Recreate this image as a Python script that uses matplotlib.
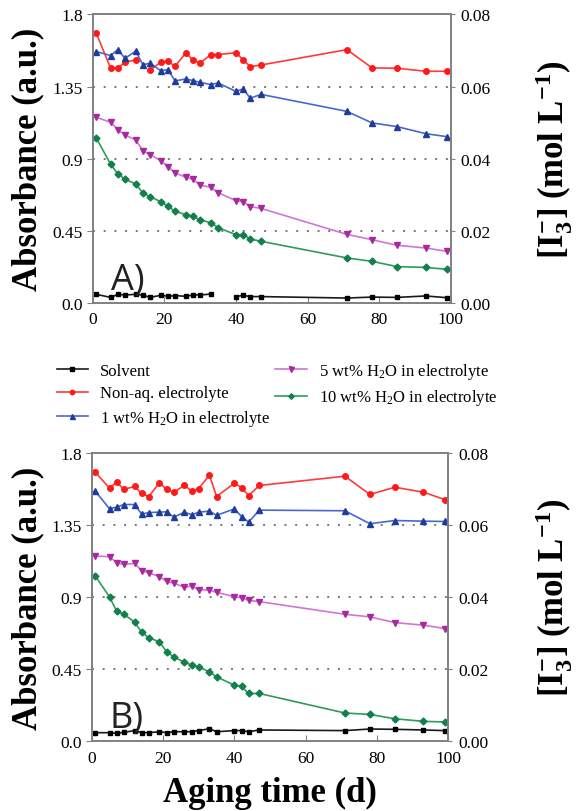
import numpy as np
import matplotlib
matplotlib.use('Agg')
import matplotlib.pyplot as plt

plt.rcParams['font.family'] = ['Liberation Serif', 'DejaVu Serif']
plt.rcParams['mathtext.fontset'] = 'custom'
plt.rcParams['mathtext.rm'] = 'Liberation Serif'
plt.rcParams['mathtext.it'] = 'Liberation Serif:italic'
plt.rcParams['mathtext.bf'] = 'Liberation Serif:bold'

# aging days (sampling points)
days = [1, 5, 7, 9, 12, 14, 16, 19, 21, 23, 26, 28, 30, 33, 35, 40, 42, 44, 47, 71, 78, 85, 93, 99]

# panel A
a_solvent = [0.054, 0.035, 0.054, 0.050, 0.054, 0.050, 0.035, 0.048, 0.042, 0.046, 0.042, 0.050,
             0.050, 0.056, np.nan, 0.040, 0.048, 0.040, 0.040, 0.031, 0.037, 0.035, 0.044, 0.033]
a_nonaq = [1.682, 1.464, 1.464, 1.501, 1.516, np.nan, 1.453, 1.501, 1.507, 1.476, 1.559, 1.516,
           1.497, 1.549, 1.549, 1.561, 1.516, 1.474, 1.484, 1.580, 1.466, 1.464, 1.445, 1.445]
a_w1 = [1.568, 1.543, 1.580, 1.526, 1.570, 1.486, 1.495, 1.449, 1.455, 1.385, 1.397, 1.387,
        1.376, 1.362, 1.372, 1.320, 1.335, 1.277, 1.301, 1.195, 1.123, 1.100, 1.056, 1.037]
a_w5 = [1.158, 1.127, 1.081, 1.048, 1.017, 0.950, 0.925, 0.888, 0.850, 0.811, 0.784, 0.771,
        0.736, 0.721, 0.688, 0.638, 0.632, 0.601, 0.590, 0.428, 0.395, 0.360, 0.343, 0.322]
a_w10 = [1.029, 0.865, 0.805, 0.773, 0.742, 0.686, 0.663, 0.632, 0.603, 0.572, 0.551, 0.541,
         0.518, 0.501, 0.470, 0.426, 0.426, 0.399, 0.385, 0.281, 0.260, 0.227, 0.222, 0.210]

# panel B
b_solvent = [0.054, 0.054, 0.050, 0.056, 0.067, 0.054, 0.054, 0.060, 0.054, 0.060, 0.060, 0.060,
             0.067, 0.079, 0.060, 0.067, 0.067, 0.060, 0.071, 0.067, 0.077, 0.075, 0.071, 0.067]
b_nonaq = [1.682, 1.582, 1.620, 1.574, 1.593, 1.549, 1.530, 1.617, 1.574, 1.557, 1.599, 1.565,
           1.580, 1.663, 1.530, 1.613, 1.586, 1.536, 1.599, 1.657, 1.543, 1.588, 1.557, 1.511]
b_w1 = [1.563, 1.453, 1.464, 1.480, 1.480, 1.420, 1.430, 1.432, 1.435, 1.401, 1.432, 1.416,
        1.432, 1.439, 1.412, 1.453, 1.405, 1.370, 1.445, 1.441, 1.360, 1.380, 1.376, 1.374]
b_w5 = [1.158, 1.154, 1.116, 1.106, 1.112, 1.067, 1.054, 1.029, 1.000, 0.988, 0.963, 0.971,
        0.946, 0.946, 0.931, 0.904, 0.898, 0.881, 0.873, 0.794, 0.778, 0.742, 0.726, 0.705]
b_w10 = [1.033, 0.902, 0.813, 0.794, 0.746, 0.682, 0.647, 0.622, 0.559, 0.528, 0.493, 0.478,
         0.464, 0.435, 0.403, 0.351, 0.343, 0.299, 0.299, 0.177, 0.168, 0.141, 0.125, 0.121]

labels = ['Solvent', 'Non-aq. electrolyte', '1 wt% H$_2$O in electrolyte',
          '5 wt% H$_2$O in electrolyte', '10 wt% H$_2$O in electrolyte']

# (line colour, marker colour, marker, size)
styles = [('#1a1a1a', '#000000', 's', 3.5),
          ('#ff3a3a', '#ff1a1a', 'o', 4),
          ('#4a68cc', '#1f3c9c', '^', 4.5),
          ('#d273d6', '#a8289e', 'v', 4.5),
          ('#2f9b5a', '#12804a', 'D', 3.5)]

fig = plt.figure(figsize=(5.77, 8.12), dpi=100)
ax_a = fig.add_axes([0.1607, 0.6256, 0.6205, 0.3555])
ax_b = fig.add_axes([0.159, 0.0858, 0.618, 0.3547])


def draw_panel(ax, series, tag):
    lines = []
    for ys, lab, (lc, mc, mk, ms) in zip(series, labels, styles):
        ln, = ax.plot(days, ys, color=lc, lw=1.2, marker=mk, ms=ms,
                      mfc=mc, mec=mc, label=lab)
        lines.append(ln)
    for g in [0.45, 0.9, 1.35]:
        ax.axhline(g, color='#777777', lw=1.4, ls=(0, (1, 4.5)), zorder=0)
    ax.set_xlim(0, 100)
    ax.set_ylim(0, 1.8)
    ax.set_yticks([0.0, 0.45, 0.9, 1.35, 1.8])
    ax.set_yticklabels(['0.0', '0.45', '0.9', '1.35', '1.8'])
    ax.set_xticks([0, 20, 40, 60, 80, 100])
    for s in ax.spines.values():
        s.set_color('#808080')
        s.set_linewidth(1.4)
    ax.tick_params(axis='y', direction='out', length=4, color='#808080',
                   labelsize=12.5, pad=3)
    ax.tick_params(axis='x', direction='in', length=4, color='#808080',
                   labelsize=12.5, pad=6)
    ax.text(0.05, 0.05, tag, transform=ax.transAxes, fontsize=26,
            family='Open Sans', color='#222222')

    tw = ax.twinx()
    tw.set_ylim(0, 0.08)
    tw.set_yticks([0.0, 0.02, 0.04, 0.06, 0.08])
    tw.set_yticklabels(['0.00', '0.02', '0.04', '0.06', '0.08'])
    tw.tick_params(axis='y', direction='out', length=3, color='#808080',
                   labelsize=12.5, pad=4)
    for s in tw.spines.values():
        s.set_visible(False)
    return lines


handles = draw_panel(ax_a, [a_solvent, a_nonaq, a_w1, a_w5, a_w10], 'A)')
draw_panel(ax_b, [b_solvent, b_nonaq, b_w1, b_w5, b_w10], 'B)')

for ycen in [(ax_a.get_position().y0 + ax_a.get_position().y1) / 2,
             (ax_b.get_position().y0 + ax_b.get_position().y1) / 2]:
    fig.text(0.048, ycen, 'Absorbance (a.u.)', rotation=90, ha='center', va='center',
             fontsize=25, fontweight='bold')
    fig.text(0.96, ycen, r'$\mathbf{[I_3^{-}]\ (mol\ L^{-1})}$', rotation=90,
             ha='center', va='center', fontsize=25)

fig.text(0.468, 0.023, 'Aging time (d)', ha='center', va='center',
         fontsize=25, fontweight='bold')

fig.legend(handles=handles, loc='center', bbox_to_anchor=(0.48, 0.513), ncol=2,
           frameon=False, fontsize=12, handlelength=1.9, handletextpad=0.7,
           columnspacing=0.3, labelspacing=0.4, markerscale=0.8)

fig.savefig('out.png', dpi=100)
